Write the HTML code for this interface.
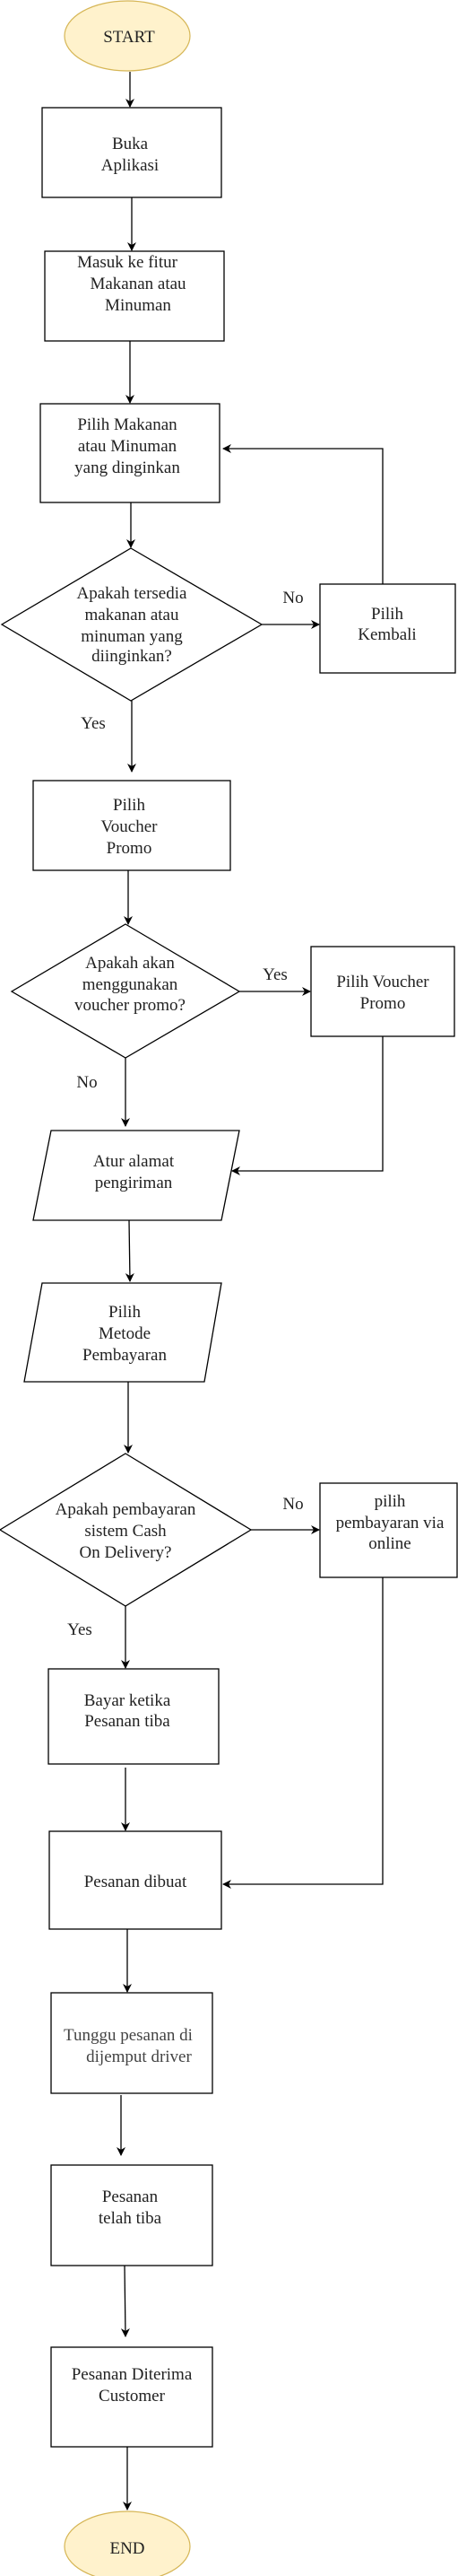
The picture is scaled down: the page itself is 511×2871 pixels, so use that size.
<!DOCTYPE html>
<html><head><meta charset="utf-8"><style>
html,body{margin:0;padding:0;background:#fff;}
svg{display:block;}
text{font-family:"Liberation Serif",serif;font-size:19px;fill:#222;}
</style></head><body>
<svg width="511" height="2871" viewBox="0 0 511 2871" xmlns="http://www.w3.org/2000/svg">
<defs><marker id="a" markerWidth="10" markerHeight="10" refX="9" refY="5" orient="auto" markerUnits="userSpaceOnUse"><path d="M0,0 L10,5 L0,10 L3,5 Z" fill="#000"/></marker></defs>
<g fill="none" stroke="#000" stroke-width="1.3">
<!-- shapes -->
<rect x="47" y="120" width="200" height="100"/>
<rect x="50" y="280" width="200" height="100"/>
<rect x="45" y="450" width="200" height="110"/>
<polygon points="146,611 292,696 146,781 2,696"/>
<rect x="357" y="651" width="151" height="99"/>
<rect x="37" y="870" width="220" height="100"/>
<polygon points="140,1030 267,1105 140,1179 13,1105"/>
<rect x="347" y="1055" width="160" height="100"/>
<polygon points="57,1260 267,1260 247,1360 37,1360"/>
<polygon points="47,1430 247,1430 228,1540 27,1540"/>
<polygon points="140,1620 280,1705 140,1790 0,1705"/>
<rect x="357" y="1653" width="153" height="105"/>
<rect x="54" y="1860" width="190" height="106"/>
<rect x="55" y="2041" width="192" height="109"/>
<rect x="57" y="2221" width="180" height="112"/>
<rect x="57" y="2413" width="180" height="112"/>
<rect x="57" y="2616" width="180" height="111"/>
<!-- connectors -->
<line x1="145" y1="80" x2="145" y2="119" marker-end="url(#a)"/>
<line x1="147" y1="220" x2="147" y2="279" marker-end="url(#a)"/>
<line x1="145" y1="380" x2="145" y2="449" marker-end="url(#a)"/>
<line x1="146" y1="560" x2="146" y2="610" marker-end="url(#a)"/>
<line x1="292" y1="696" x2="356" y2="696" marker-end="url(#a)"/>
<polyline points="427,651 427,500 249,500" marker-end="url(#a)"/>
<line x1="147" y1="781" x2="147" y2="860" marker-end="url(#a)"/>
<line x1="143" y1="970" x2="143" y2="1030" marker-end="url(#a)"/>
<line x1="267" y1="1105" x2="346" y2="1105" marker-end="url(#a)"/>
<line x1="140" y1="1179" x2="140" y2="1255" marker-end="url(#a)"/>
<polyline points="427,1155 427,1305 259,1305" marker-end="url(#a)"/>
<line x1="144" y1="1360" x2="145" y2="1428" marker-end="url(#a)"/>
<line x1="143" y1="1540" x2="143" y2="1619" marker-end="url(#a)"/>
<line x1="280" y1="1705" x2="356" y2="1705" marker-end="url(#a)"/>
<line x1="140" y1="1790" x2="140" y2="1859" marker-end="url(#a)"/>
<line x1="140" y1="1970" x2="140" y2="2040" marker-end="url(#a)"/>
<polyline points="427,1758 427,2100 249,2100" marker-end="url(#a)"/>
<line x1="142" y1="2150" x2="142" y2="2220" marker-end="url(#a)"/>
<line x1="135" y1="2335" x2="135" y2="2402" marker-end="url(#a)"/>
<line x1="139" y1="2525" x2="140" y2="2604" marker-end="url(#a)"/>
<line x1="142" y1="2727" x2="142" y2="2797" marker-end="url(#a)"/>
</g>
<ellipse cx="142" cy="40" rx="70" ry="39" fill="#fff2cc" stroke="#d6b656" stroke-width="1.2"/>
<ellipse cx="142" cy="2838" rx="70" ry="39" fill="#fff2cc" stroke="#d6b656" stroke-width="1.2"/>
<g text-anchor="middle">
<text x="144" y="47">START</text>
<text x="142" y="2846">END</text>
<text x="145" y="166">Buka</text><text x="145" y="190">Aplikasi</text>
<text x="142" y="298">Masuk ke fitur</text><text x="154" y="322">Makanan atau</text><text x="154" y="346">Minuman</text>
<text x="142" y="479">Pilih Makanan</text><text x="142" y="503">atau Minuman</text><text x="142" y="527">yang dinginkan</text>
<text x="147" y="667">Apakah tersedia</text><text x="147" y="691">makanan atau</text><text x="147" y="715">minuman yang</text><text x="147" y="737">diinginkan?</text>
<text x="327" y="672">No</text>
<text x="432" y="690">Pilih</text><text x="432" y="713">Kembali</text>
<text x="104" y="812">Yes</text>
<text x="144" y="903">Pilih</text><text x="144" y="927">Voucher</text><text x="144" y="951">Promo</text>
<text x="145" y="1079">Apakah akan</text><text x="145" y="1103">menggunakan</text><text x="145" y="1126">voucher promo?</text>
<text x="307" y="1092">Yes</text>
<text x="427" y="1100">Pilih Voucher</text><text x="427" y="1124">Promo</text>
<text x="97" y="1212">No</text>
<text x="149" y="1300">Atur alamat</text><text x="149" y="1324">pengiriman</text>
<text x="139" y="1468">Pilih</text><text x="139" y="1492">Metode</text><text x="139" y="1516">Pembayaran</text>
<text x="140" y="1688">Apakah pembayaran</text><text x="140" y="1712">sistem Cash</text><text x="140" y="1736">On Delivery?</text>
<text x="327" y="1682">No</text>
<text x="435" y="1679">pilih</text><text x="435" y="1703">pembayaran via</text><text x="435" y="1726">online</text>
<text x="89" y="1822">Yes</text>
<text x="142" y="1901">Bayar ketika</text><text x="142" y="1924">Pesanan tiba</text>
<text x="151" y="2103">Pesanan dibuat</text>
<text x="143" y="2274" style="fill:#444">Tunggu pesanan di</text><text x="155" y="2298" style="fill:#444">dijemput driver</text>
<text x="145" y="2454">Pesanan</text><text x="145" y="2478">telah tiba</text>
<text x="147" y="2652">Pesanan Diterima</text><text x="147" y="2676">Customer</text>
</g>
</svg>
</body></html>
